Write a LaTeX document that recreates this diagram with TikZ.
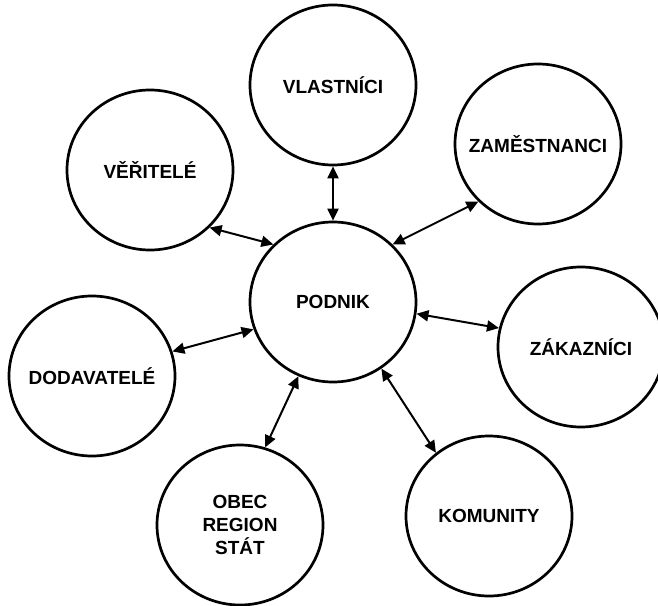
\documentclass[tikz,border=0pt]{standalone}
\usepackage{fontspec}
\setmainfont{Liberation Sans}
\usetikzlibrary{arrows.meta,shapes.geometric,positioning}

\begin{document}
\begin{tikzpicture}[
				on grid,
				party/.style={draw,ellipse,line width=2.7pt,minimum width=166pt,minimum height=160pt,inner sep=-30pt,align=center,font=\fontsize{19}{23}\selectfont\bfseries},
				link/.style={{Triangle[length=12pt,width=11pt]}-{Triangle[length=12pt,width=11pt]},line width=2pt}
				]
				\useasboundingbox (-333pt,-303pt) rectangle (325pt,302pt);
				
				% Podnik uprostred
				\node[party] (podnik) {PODNIK};
				
				% Zajmove skupiny
				\node[party,above=217pt of podnik] (vlastnici) {VLASTNÍCI};
				\node[party,above left=132pt and 183pt of podnik] (veritele) {VĚŘITELÉ};
				\node[party,above right=158pt and 205pt of podnik] (zamestnanci) {ZAMĚSTNANCI};
				\node[party,below right=45pt and 248pt of podnik] (zakaznici) {ZÁKAZNÍCI};
				\node[party,below left=74pt and 241pt of podnik] (dodavatele) {DODAVATELÉ};
				\node[party,below left=223pt and 93pt of podnik] (obec) {OBEC\\REGION\\STÁT};
				\node[party,below right=214pt and 156pt of podnik] (komunity) {KOMUNITY};
				
				% Vazby
				\draw[link] (vlastnici.-90) -- (podnik.90);
				\draw[link] (veritele.-44) -- (podnik.136);
				\draw[link] (zamestnanci.-136) -- (podnik.44);
				\draw[link] (podnik.-8) -- (zakaznici.167);
				\draw[link] (dodavatele.17) -- (podnik.-161);
				\draw[link] (obec.72) -- (podnik.-115);
				\draw[link] (komunity.130) -- (podnik.-54);
				
			\end{tikzpicture}
\end{document}
